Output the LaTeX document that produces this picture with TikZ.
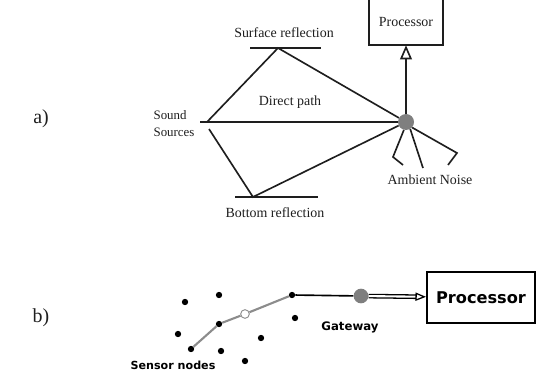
\documentclass[tikz,border=0pt]{standalone}
\usepackage{fontspec}
\setmainfont{Liberation Serif}
\newfontfamily\labelsans{DejaVu Sans}
\usetikzlibrary{arrows.meta,positioning}
\definecolor{Ink}{HTML}{1E1E1E}
\definecolor{Hydro}{HTML}{7F7F7F}
\definecolor{Link}{HTML}{8C8C8C}

\begin{document}
\begin{tikzpicture}[x=0.03cm,y=-0.03cm,>=Latex,
    ray/.style={Ink,line width=1.4pt},
    lbl/.style={text=Ink,inner sep=0pt,font=\fontsize{11.9}{14}\selectfont},
    tag/.style={text=Ink,inner sep=0pt,font=\fontsize{17}{20}\selectfont},
    sensor/.style={circle,fill=black,inner sep=0pt,minimum size=0.19cm},
    sans/.style={text=black,inner sep=0pt,font=\labelsans\bfseries\fontsize{9.5}{11}\selectfont}]
  \useasboundingbox (0,0) rectangle (536,372);

  % a) acoustic paths
  \node[tag] (tagA) at (41,119) {a)};
  \node[lbl,align=left,font=\fontsize{11}{14.5}\selectfont] (src) at (174,123.5) {Sound\\Sources};
  \coordinate (srcL) at (200,122);
  \coordinate (srcU) at (207,122);
  \coordinate (srcD) at (209,129);
  \coordinate (surf) at (278,48);
  \coordinate (bot) at (253,197);
  \node[circle,fill=Hydro,inner sep=0pt,minimum size=0.48cm] (hyd) at (406,122) {};
  \node[lbl] (surfT) at (284,33) {Surface reflection};
  \node[lbl] (direct) at (290,102) {Direct path};
  \node[lbl] (botT) at (275,213) {Bottom reflection};
  \node[lbl] (noise) at (430,180) {Ambient Noise};
  \node[lbl,minimum width=2.22cm,minimum height=1.35cm] (procA) at (406,22.5) {Processor};

  \draw[ray] (250,48) -- (321,48);
  \draw[ray] (235,197) -- (318,197);
  \draw[ray] (srcL) -- (hyd);
  \draw[ray] (srcU) -- (surf) -- (hyd);
  \draw[ray] (srcD) -- (bot) -- (hyd);
  \draw[ray] (procA.north west) -- (procA.south west) -- (procA.south east) -- (procA.north east);
  \draw[ray,-{Triangle[open,length=12pt,width=10pt]}] (hyd) -- (procA.south);
  \draw[ray] (hyd.-105) -- (393,157) -- (403,165);
  \draw[ray] (hyd.-59) -- (423,168);
  \draw[ray] (hyd.-42) -- (457,153) -- (448,165);

  % b) sensor network
  \node[tag] (tagB) at (41,318) {b)};
  \foreach \px/\py in {185/302, 219/295, 295/318, 178/334, 261/338, 221/351, 245/361}
    \node[sensor] at (\px,\py) {};
  \node[sensor] (n1) at (191,349) {};
  \node[sensor] (n2) at (219,324) {};
  \node[circle,draw=Link,fill=white,line width=0.8pt,inner sep=0pt,minimum size=0.26cm] (relay) at (245,314) {};
  \node[sensor] (n3) at (292,295) {};
  \node[circle,fill=Hydro,inner sep=0pt,minimum size=0.44cm] (gate) at (361,296) {};
  \node[draw,line width=1.7pt,minimum width=3.24cm,minimum height=1.53cm,
        font=\labelsans\bfseries\fontsize{13.8}{16}\selectfont] (procB) at (481,297.5) {Processor};

  \draw[Link,line width=1.8pt] (n1) -- (n2) -- (relay) -- (n3);
  \draw[black,line width=1.4pt] (n3) -- (gate);
  \draw[black,double=white,double distance=1.8pt,line width=1.1pt,
        -{Triangle[open,length=9pt,width=7pt]}] (gate) -- (procB);

  \node[sans,font=\labelsans\bfseries\fontsize{10}{12}\selectfont] (gateT) at (350,327) {Gateway};
  \node[sans] (sensT) at (173,365) {Sensor nodes};
\end{tikzpicture}
\end{document}
